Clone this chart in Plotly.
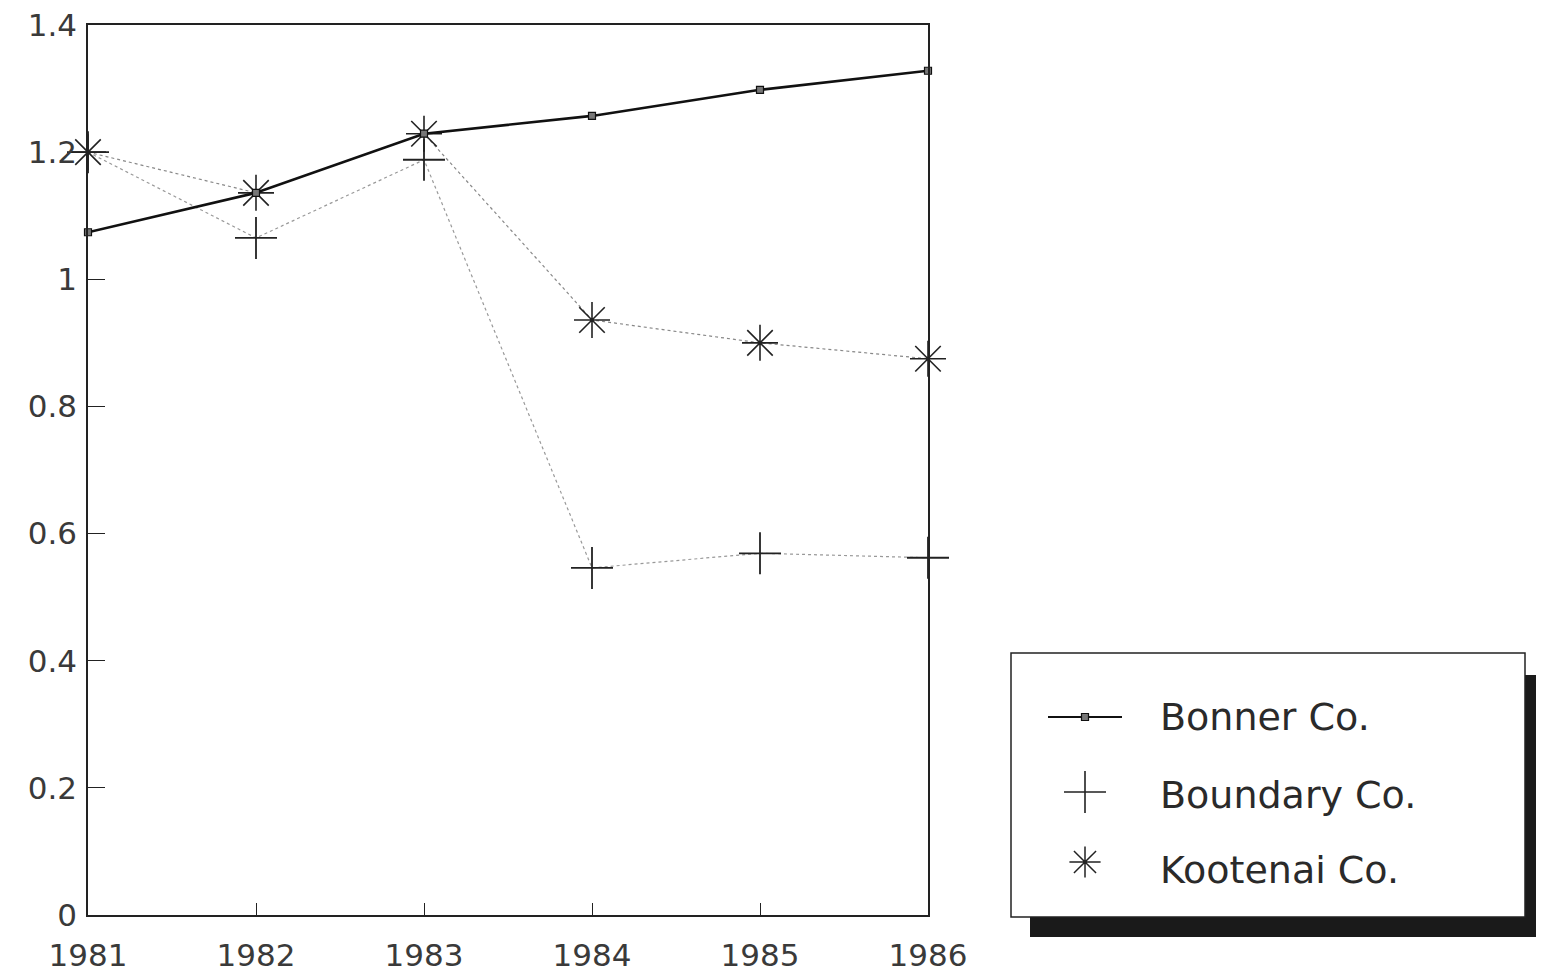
import plotly.graph_objects as go

years = [1981, 1982, 1983, 1984, 1985, 1986]
bonner = [1.074, 1.136, 1.229, 1.257, 1.298, 1.328]
boundary = [1.200, 1.065, 1.188, 0.546, 0.569, 0.562]
kootenai = [1.200, 1.136, 1.229, 0.936, 0.900, 0.875]
y_ticks = [0, 0.2, 0.4, 0.6, 0.8, 1.0, 1.2, 1.4]
y_tick_text = ["0", "0.2", "0.4", "0.6", "0.8", "1", "1.2", "1.4"]
series_names = ["Bonner Co.", "Boundary Co.", "Kootenai Co."]

FONT = "DejaVu Sans"
OFF = 8                     # page body margin
W, H = 1528, 964
ML, MT, MB = 80, 17, 32
PW, PH = W - ML, H - MT - MB

def px_x(sx):
    return (sx - OFF - ML) / PW

def px_y(sy):
    return (H - MB - (sy - OFF)) / PH

fig = go.Figure()

fig.add_trace(go.Scatter(
    x=years, y=boundary, mode="lines+markers", showlegend=False, cliponaxis=False,
    line=dict(color="#999", width=1.2, dash="dot"),
    marker=dict(symbol="cross-thin", size=30, line=dict(color="#222", width=1.8)),
))
fig.add_trace(go.Scatter(
    x=years, y=kootenai, mode="lines+markers", showlegend=False, cliponaxis=False,
    line=dict(color="#888", width=1.2, dash="dot"),
    marker=dict(symbol="asterisk", size=30, line=dict(color="#222", width=1.6)),
))
fig.add_trace(go.Scatter(
    x=years, y=bonner, mode="lines+markers", showlegend=False, cliponaxis=False,
    line=dict(color="#111", width=2.6),
    marker=dict(symbol="square", size=7, color="#777", line=dict(color="#111", width=1.2)),
))

# legend glyphs on an auxiliary axis pair scaled in screen pixels
lx0, lx1 = 1005, OFF + W
ly0, ly1 = 647, OFF + H - MB
fig.add_trace(go.Scatter(x=[1048, 1122], y=[717, 717], mode="lines", xaxis="x2", yaxis="y2",
                         showlegend=False, line=dict(color="#111", width=2.2), hoverinfo="skip"))
fig.add_trace(go.Scatter(x=[1085], y=[717], mode="markers", xaxis="x2", yaxis="y2", showlegend=False,
                         marker=dict(symbol="square", size=7, color="#777", line=dict(color="#111", width=1.2))))
fig.add_trace(go.Scatter(x=[1085], y=[792], mode="markers", xaxis="x2", yaxis="y2", showlegend=False,
                         marker=dict(symbol="cross-thin", size=30, line=dict(color="#222", width=1.6))))
fig.add_trace(go.Scatter(x=[1085], y=[862], mode="markers", xaxis="x2", yaxis="y2", showlegend=False,
                         marker=dict(symbol="asterisk", size=26, line=dict(color="#222", width=1.5))))

for name, yy in zip(series_names, [717, 795, 870]):
    fig.add_annotation(x=1158, y=yy, xref="x2", yref="y2", text=name, showarrow=False,
                       xanchor="left", yanchor="middle",
                       font=dict(family=FONT, size=38, color="#2a2a2a"))

# shadow + legend box
fig.add_shape(type="rect", xref="x2", yref="y2", x0=1030, x1=1544, y0=675, y1=937,
              fillcolor="#1a1a1a", line=dict(width=0), layer="below")
fig.add_shape(type="rect", xref="x2", yref="y2", x0=1011, x1=1525, y0=653, y1=917,
              fillcolor="white", line=dict(color="#222", width=1.5), layer="below")

fig.update_layout(
    width=W, height=H,
    margin=dict(l=ML, r=0, t=MT, b=MB, autoexpand=False),
    paper_bgcolor="white", plot_bgcolor="rgba(0,0,0,0)",
    showlegend=False,
    xaxis=dict(
        domain=[0, px_x(928)], range=[1981, 1986], tickvals=years, ticktext=[str(y) for y in years],
        ticks="inside", ticklen=12, tickwidth=1.3, tickcolor="#222",
        showline=True, linecolor="#222", linewidth=1.5, mirror=True, automargin=False,
        showgrid=False, zeroline=False, ticklabelstandoff=12, ticklabeloverflow="allow",
        tickfont=dict(family=FONT, size=31, color="#3a3a3a"),
    ),
    yaxis=dict(
        domain=[px_y(915), 1], range=[0, 1.4], tickvals=y_ticks, ticktext=y_tick_text,
        ticks="inside", ticklen=17, tickwidth=1.3, tickcolor="#222",
        showline=True, linecolor="#222", linewidth=1.5, mirror=True, automargin=False,
        showgrid=False, zeroline=False, ticklabelstandoff=3, ticklabeloverflow="allow",
        tickfont=dict(family=FONT, size=31, color="#3a3a3a"),
    ),
    xaxis2=dict(domain=[px_x(lx0), 1], range=[lx0, lx1], visible=False, anchor="y2",
                fixedrange=True, automargin=False),
    yaxis2=dict(domain=[0, px_y(ly0)], range=[ly1, ly0], visible=False, anchor="x2",
                fixedrange=True, automargin=False),
)

fig.write_html("out.html")
